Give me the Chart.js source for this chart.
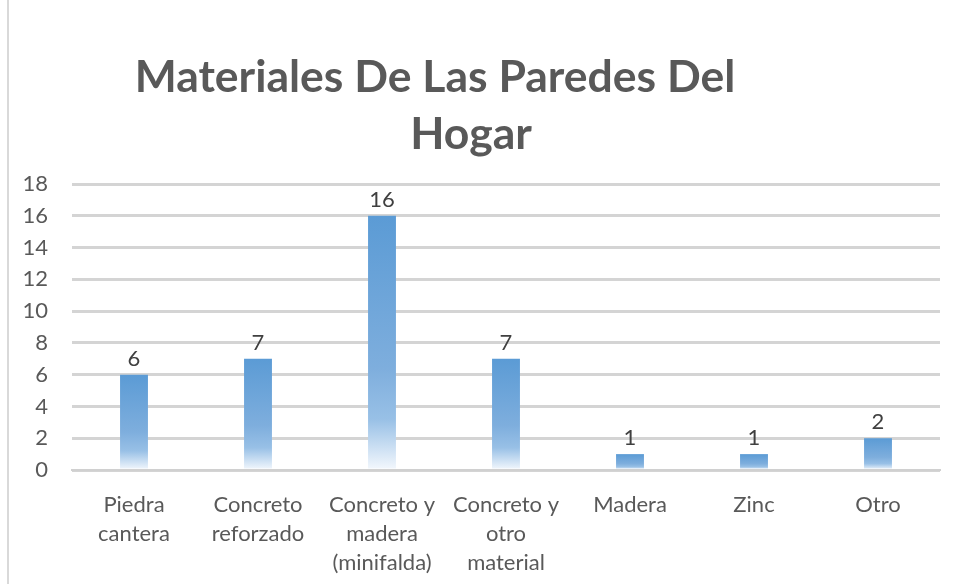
<!DOCTYPE html>
<html>
<head>
<meta charset="utf-8">
<script src="https://cdn.jsdelivr.net/npm/chart.js@4/dist/chart.umd.min.js"></script>
<style>
  html, body { margin: 0; padding: 0; background: #fff; }
  #wrap { position: relative; width: 957px; height: 584px; }
  #edge { position: absolute; left: 7px; top: 0; width: 2px; height: 584px; background: #d9d9d9; }
</style>
</head>
<body>
<div id="wrap">
  <div id="edge"></div>
  <canvas id="wallChart" width="957" height="584"></canvas>
</div>
<script>
// datos del grafico
const titleLines = ['Materiales De Las Paredes Del', 'Hogar'];
const categories = [
    ['Piedra', 'cantera'],
    ['Concreto', 'reforzado'],
    ['Concreto y', 'madera', '(minifalda)'],
    ['Concreto y', 'otro', 'material'],
    'Madera',
    'Zinc',
    'Otro'
];
const counts = [6, 7, 16, 7, 1, 1, 2];

const textColor = '#595959';
const fontFamily = 'Lato, "Open Sans", sans-serif';

// degradado azul -> blanco para cada barra
function barGradient(context) {
    const chart = context.chart;
    const area = chart.chartArea;
    if (!area) return '#5b9bd5';
    const y = chart.scales.y;
    const top = y.getPixelForValue(context.raw);
    const bottom = y.getPixelForValue(0);
    const g = chart.ctx.createLinearGradient(0, top, 0, bottom);
    g.addColorStop(0, '#5b9bd5');
    g.addColorStop(0.6, '#7eaedd');
    g.addColorStop(0.8, '#98c0e6');
    g.addColorStop(1, '#f4f8fd');
    return g;
}

// titulo en dos lineas
const titlePlugin = {
    id: 'twoLineTitle',
    afterDraw(chart) {
        const ctx = chart.ctx;
        ctx.save();
        ctx.fillStyle = textColor;
        ctx.font = 'bold 44.5px ' + fontFamily;
        ctx.textAlign = 'center';
        ctx.textBaseline = 'middle';
        ctx.fillText(titleLines[0], 435, 78);
        ctx.fillText(titleLines[1], 471, 135);
        ctx.restore();
    }
};

// etiquetas de valor encima de las barras
const valueLabels = {
    id: 'valueLabels',
    afterDatasetsDraw(chart) {
        const ctx = chart.ctx;
        const meta = chart.getDatasetMeta(0);
        ctx.save();
        ctx.fillStyle = '#404040';
        ctx.font = '22px ' + fontFamily;
        ctx.textAlign = 'center';
        ctx.textBaseline = 'alphabetic';
        meta.data.forEach(function (bar, i) {
            ctx.fillText(String(counts[i]), bar.x, bar.y - 9);
        });
        ctx.restore();
    }
};

const ctx = document.getElementById('wallChart').getContext('2d');
new Chart(ctx, {
    type: 'bar',
    data: {
        labels: categories,
        datasets: [{
            data: counts,
            backgroundColor: barGradient,
            borderWidth: 0,
            categoryPercentage: 1,
            barPercentage: 0.225
        }]
    },
    options: {
        responsive: false,
        animation: false,
        layout: { padding: { top: 184, right: 17, left: 0, bottom: 0 } },
        plugins: {
            legend: { display: false },
            tooltip: { enabled: false },
            title: { display: false }
        },
        scales: {
            x: {
                grid: { display: false, drawTicks: false },
                border: { display: true, color: '#d0d0d0', width: 2 },
                ticks: {
                    color: textColor,
                    font: { family: fontFamily, size: 22, lineHeight: 1.32 },
                    padding: 20,
                    maxRotation: 0,
                    autoSkip: false
                },
                afterFit(scale) { scale.height = 114; }
            },
            y: {
                min: 0,
                max: 18,
                grid: { color: '#d4d4d4', lineWidth: 3, drawTicks: false },
                border: { display: false },
                ticks: {
                    stepSize: 2,
                    color: textColor,
                    font: { family: fontFamily, size: 22 },
                    padding: 24
                },
                afterFit(scale) { scale.width = 72; }
            }
        }
    },
    plugins: [titlePlugin, valueLabels]
});
</script>
</body>
</html>
